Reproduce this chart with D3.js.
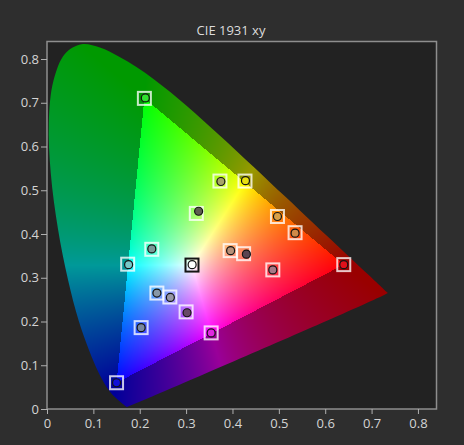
<!DOCTYPE html>
<html>
<head>
<meta charset="utf-8">
<script src="https://cdn.jsdelivr.net/npm/d3@7"></script>
<style>
  body { margin: 0; background: #2e2e2e; }
  svg { display: block; }
  .tick text { font-family: "Open Sans", sans-serif; font-size: 13px; fill: #d4d4d4; }
  .tick line { stroke: #b0b0b0; }
</style>
</head>
<body>
<div id="chart"></div>
<script>
// CIE 1931 2deg spectral locus (380-700 nm)
const LOCUS_NM = [380,385,390,395,400,405,410,415,420,425,430,435,440,445,450,455,460,465,470,475,480,485,490,495,500,505,510,515,520,525,530,535,540,545,550,555,560,565,570,575,580,585,590,595,600,605,610,615,620,625,630,635,640,645,650,655,660,665,670,675,680,690,700];
const LOCUS_X = [0.1741,0.1740,0.1738,0.1736,0.1733,0.1730,0.1726,0.1721,0.1714,0.1703,0.1689,0.1669,0.1644,0.1611,0.1566,0.1510,0.1440,0.1355,0.1241,0.1096,0.0913,0.0687,0.0454,0.0235,0.0082,0.0039,0.0139,0.0389,0.0743,0.1142,0.1547,0.1929,0.2296,0.2658,0.3016,0.3373,0.3731,0.4087,0.4441,0.4788,0.5125,0.5448,0.5752,0.6029,0.6270,0.6482,0.6658,0.6801,0.6915,0.7006,0.7079,0.7140,0.7190,0.7230,0.7260,0.7283,0.7300,0.7311,0.7320,0.7327,0.7334,0.7344,0.7347];
const LOCUS_Y = [0.0050,0.0050,0.0049,0.0049,0.0048,0.0048,0.0048,0.0048,0.0051,0.0058,0.0069,0.0086,0.0109,0.0138,0.0177,0.0227,0.0297,0.0399,0.0578,0.0868,0.1327,0.2007,0.2950,0.4127,0.5384,0.6548,0.7502,0.8120,0.8338,0.8262,0.8059,0.7816,0.7543,0.7243,0.6923,0.6589,0.6245,0.5896,0.5547,0.5202,0.4866,0.4544,0.4242,0.3965,0.3725,0.3514,0.3340,0.3197,0.3083,0.2993,0.2920,0.2859,0.2809,0.2770,0.2740,0.2717,0.2700,0.2689,0.2680,0.2673,0.2666,0.2656,0.2653];

// gamut primaries (R, G, B) and white point
const GAMUT_X = [0.64, 0.21, 0.15];
const GAMUT_Y = [0.33, 0.71, 0.06];
const WHITE_X = 0.3127;
const WHITE_Y = 0.3290;

// target chromaticities (squares)
const TARGET_X = [0.210, 0.640, 0.150, 0.373, 0.427, 0.322, 0.497, 0.535, 0.395, 0.424, 0.487, 0.3127, 0.226, 0.174, 0.237, 0.265, 0.300, 0.203, 0.354];
const TARGET_Y = [0.710, 0.330, 0.060, 0.521, 0.521, 0.447, 0.440, 0.403, 0.362, 0.355, 0.318, 0.3290, 0.365, 0.331, 0.265, 0.256, 0.222, 0.186, 0.174];

// measured chromaticities (circles)
const MEASURED_X = [0.212, 0.640, 0.150, 0.375, 0.428, 0.327, 0.497, 0.535, 0.396, 0.430, 0.487, 0.313, 0.226, 0.176, 0.237, 0.266, 0.302, 0.203, 0.354];
const MEASURED_Y = [0.711, 0.330, 0.060, 0.520, 0.522, 0.452, 0.440, 0.402, 0.362, 0.354, 0.318, 0.330, 0.366, 0.330, 0.265, 0.255, 0.220, 0.186, 0.174];
const MEASURED_COLOR = ["#2ee02e", "#e0101a", "#1010d8", "#a8a468", "#e8e010", "#5e5e50", "#d8a048", "#d08a48", "#b89078", "#5a4450", "#a87888", "#ffffff", "#7a9a98", "#78c8c8", "#8898a8", "#9898a8", "#684868", "#7888a0", "#e028e0"];

const TICKS = [0, 0.1, 0.2, 0.3, 0.4, 0.5, 0.6, 0.7, 0.8];
const TICK_LABELS = ["0", "0.1", "0.2", "0.3", "0.4", "0.5", "0.6", "0.7", "0.8"];
const TITLE = "CIE 1931 xy";

const WIDTH = 464;
const HEIGHT = 445;
const DOMAIN = [0, 0.84];

const X = d3.scaleLinear().domain(DOMAIN).range([47, 436.5]);
const Y = d3.scaleLinear().domain(DOMAIN).range([409, 41.5]);

const SVG_SELECTION = d3.select("#chart").append("svg")
  .attr("width", WIDTH)
  .attr("height", HEIGHT);

SVG_SELECTION.append("rect")
  .attr("width", WIDTH)
  .attr("height", HEIGHT)
  .attr("fill", "#2e2e2e");

SVG_SELECTION.append("text")
  .attr("x", 231)
  .attr("y", 35)
  .attr("text-anchor", "middle")
  .attr("font-family", "'Open Sans', sans-serif")
  .attr("font-size", 13)
  .attr("fill", "#dcdcdc")
  .text(TITLE);

// plot background
SVG_SELECTION.append("rect")
  .attr("x", X(DOMAIN[0]))
  .attr("y", Y(DOMAIN[1]))
  .attr("width", X(DOMAIN[1]) - X(DOMAIN[0]))
  .attr("height", Y(DOMAIN[0]) - Y(DOMAIN[1]))
  .attr("fill", "#222222");

// MATRIX HELPERS
function inv3(m) {
  const [a, b, c] = m[0], [d, e, f] = m[1], [g, h, i] = m[2];
  const A = e * i - f * h, B = -(d * i - f * g), C = d * h - e * g;
  const det = a * A + b * B + c * C;
  return [
    [A / det, -(b * i - c * h) / det, (b * f - c * e) / det],
    [B / det, (a * i - c * g) / det, -(a * f - c * d) / det],
    [C / det, -(a * h - b * g) / det, (a * e - b * d) / det]
  ];
}

function mulVec(m, v) {
  return m.map(r => r[0] * v[0] + r[1] * v[1] + r[2] * v[2]);
}

function xyzToRgbMatrix() {
  // builds XYZ -> linear RGB from the gamut primaries and white point
  const cols = GAMUT_X.map((gx, k) => [gx / GAMUT_Y[k], 1, (1 - gx - GAMUT_Y[k]) / GAMUT_Y[k]]);
  const M = [0, 1, 2].map(r => cols.map(c => c[r]));
  const W = [WHITE_X / WHITE_Y, 1, (1 - WHITE_X - WHITE_Y) / WHITE_Y];
  const S = mulVec(inv3(M), W);
  return inv3(M.map(r => r.map((v, k) => v * S[k])));
}

const XYZ_TO_RGB = xyzToRgbMatrix();

function chromaColor(x, y) {
  const v = [x / y, 1, (1 - x - y) / y];
  let rgb = mulVec(XYZ_TO_RGB, v);
  const inside = rgb.every(c => c >= 0);
  rgb = rgb.map(c => Math.max(c, 0));
  const m = Math.max(...rgb) || 1;
  const dim = inside ? 1 : 0.6;
  return rgb.map(c => Math.round(255 * dim * Math.pow(c / m, 0.85)));
}

// DRAW THE HORSESHOE FILL
function drawLocus() {
  const x0 = Math.floor(X(DOMAIN[0])), y0 = Math.floor(Y(DOMAIN[1]));
  const w = Math.ceil(X(DOMAIN[1])) - x0, h = Math.ceil(Y(DOMAIN[0])) - y0;
  const canvas = document.createElement("canvas");
  canvas.width = w;
  canvas.height = h;
  const ctx = canvas.getContext("2d");
  const img = ctx.createImageData(w, h);
  for (let py = 0; py < h; py++) {
    for (let px = 0; px < w; px++) {
      const xv = X.invert(x0 + px + 0.5), yv = Y.invert(y0 + py + 0.5);
      if (yv <= 0.001 || xv < 0) continue;
      const c = chromaColor(xv, yv);
      const k = (py * w + px) * 4;
      img.data[k] = c[0];
      img.data[k + 1] = c[1];
      img.data[k + 2] = c[2];
      img.data[k + 3] = 255;
    }
  }
  ctx.putImageData(img, 0, 0);

  const locusPath = d3.line()
    .x(i => X(LOCUS_X[i]))
    .y(i => Y(LOCUS_Y[i]))
    .curve(d3.curveCatmullRomClosed)(LOCUS_NM.map((d, i) => i));

  SVG_SELECTION.append("clipPath")
    .attr("id", "locus-clip")
    .append("path")
    .attr("d", locusPath);

  SVG_SELECTION.append("image")
    .attr("x", x0)
    .attr("y", y0)
    .attr("width", w)
    .attr("height", h)
    .attr("clip-path", "url(#locus-clip)")
    .attr("href", canvas.toDataURL());
}

drawLocus();

// FRAME AND AXES
SVG_SELECTION.append("rect")
  .attr("x", X(DOMAIN[0]))
  .attr("y", Y(DOMAIN[1]))
  .attr("width", X(DOMAIN[1]) - X(DOMAIN[0]))
  .attr("height", Y(DOMAIN[0]) - Y(DOMAIN[1]))
  .attr("fill", "none")
  .attr("stroke", "#8e8e8e")
  .attr("stroke-width", 1.5);

SVG_SELECTION.append("g")
  .attr("transform", `translate(0,${Y(0)})`)
  .call(d3.axisBottom(X).tickValues(TICKS).tickFormat((d, i) => TICK_LABELS[i]).tickSize(5).tickPadding(5))
  .call(g => g.select(".domain").remove());

SVG_SELECTION.append("g")
  .attr("transform", `translate(${X(0)},0)`)
  .call(d3.axisLeft(Y).tickValues(TICKS).tickFormat((d, i) => TICK_LABELS[i]).tickSize(6).tickPadding(2))
  .call(g => g.select(".domain").remove());

// MARKERS
const idx = TARGET_X.map((d, i) => i);
const nearWhite = i => Math.hypot(TARGET_X[i] - WHITE_X, TARGET_Y[i] - WHITE_Y) < 0.01;

SVG_SELECTION.append("g").selectAll("rect")
  .data(idx)
  .enter()
  .append("rect")
  .attr("x", i => X(TARGET_X[i]) - 6.5)
  .attr("y", i => Y(TARGET_Y[i]) - 6.5)
  .attr("width", 13)
  .attr("height", 13)
  .attr("fill", "none")
  .attr("stroke", i => nearWhite(i) ? "#151515" : "rgba(255,255,255,0.78)")
  .attr("stroke-width", 2);

SVG_SELECTION.append("g").selectAll("circle")
  .data(idx)
  .enter()
  .append("circle")
  .attr("cx", i => X(MEASURED_X[i]))
  .attr("cy", i => Y(MEASURED_Y[i]))
  .attr("r", 4)
  .attr("fill", i => MEASURED_COLOR[i])
  .attr("stroke", "#141414")
  .attr("stroke-width", 1.2);
</script>
</body>
</html>
